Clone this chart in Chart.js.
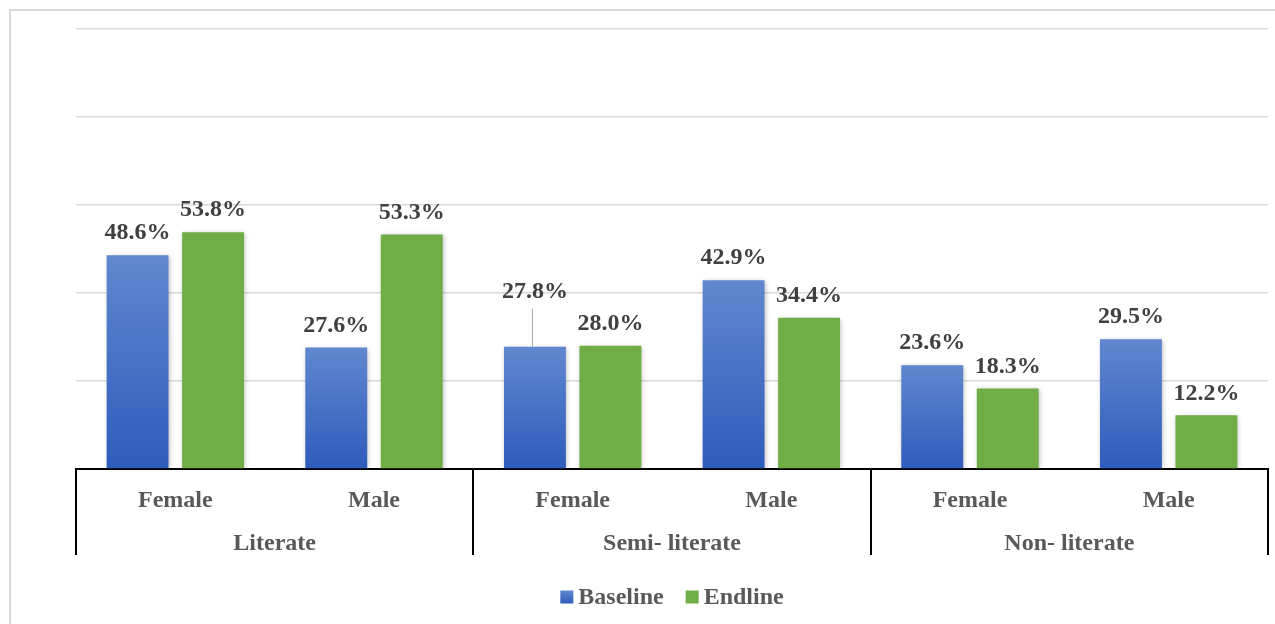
<!DOCTYPE html>
<html>
<head>
<meta charset="utf-8">
<script src="https://cdn.jsdelivr.net/npm/chart.js@4.4.1/dist/chart.umd.min.js"></script>
<style>
  html, body { margin: 0; padding: 0; background: #fff; }
  #wrap { width: 1275px; height: 624px; position: relative; }
</style>
</head>
<body>
<div id="wrap"><canvas id="literacyChart" width="1275" height="624"></canvas></div>
<script>
// chart values
const groups = ["Literate", "Semi- literate", "Non- literate"];
const sexes = ["Female", "Male", "Female", "Male", "Female", "Male"];
const baseline = [48.6, 27.6, 27.8, 42.9, 23.6, 29.5];
const endline = [53.8, 53.3, 28.0, 34.4, 18.3, 12.2];
const yTicks = [0, 20, 40, 60, 80, 100];

const SERIF = "'Liberation Serif', 'Times New Roman', serif";

// blue bars fade from light at the top to darker at the bottom, per bar
function blueFill(context) {
  const chart = context.chart;
  const y = chart.scales.y;
  if (!chart.chartArea || !y || context.raw == null) return "#4472C4";
  const top = y.getPixelForValue(context.raw);
  const bottom = y.getPixelForValue(0);
  const g = chart.ctx.createLinearGradient(0, top, 0, bottom);
  g.addColorStop(0, "#6087CF");
  g.addColorStop(1, "#2E5CBB");
  return g;
}

// label for Semi-literate female baseline sits higher with a leader line (as in the original)
const labelNudge = { "0-2": 33 };

const decorPlugin = {
  id: "decor",
  beforeDraw(chart) {
    const ctx = chart.ctx;
    ctx.save();
    ctx.strokeStyle = "#d9d9d9";
    ctx.lineWidth = 2;
    ctx.strokeRect(10, 10, 1400, 800);
    ctx.restore();
  },
  beforeDatasetsDraw(chart) {
    const ctx = chart.ctx;
    ctx.save();
    ctx.shadowColor = "rgba(0,0,0,0.28)";
    ctx.shadowBlur = 5;
    ctx.shadowOffsetX = 1;
    ctx.shadowOffsetY = 1;
  },
  afterDatasetsDraw(chart) {
    chart.ctx.restore();
    const ctx = chart.ctx;
    ctx.save();
    ctx.font = "bold 24px " + SERIF;
    ctx.fillStyle = "#404040";
    ctx.textAlign = "center";
    ctx.textBaseline = "middle";
    chart.data.datasets.forEach((ds, di) => {
      chart.getDatasetMeta(di).data.forEach((bar, i) => {
        const lift = labelNudge[di + "-" + i] || 0;
        const ty = bar.y - 22 - lift;
        ctx.fillText(ds.data[i].toFixed(1) + "%", bar.x, ty);
        if (lift) {
          ctx.strokeStyle = "#a6a6a6";
          ctx.lineWidth = 1;
          ctx.beginPath();
          ctx.moveTo(bar.x - 2.5, ty + 17);
          ctx.lineTo(bar.x - 2.5, bar.y);
          ctx.stroke();
        }
      });
    });
    ctx.restore();
  },
  afterDraw(chart) {
    const ctx = chart.ctx;
    const x = chart.scales.x;
    const area = chart.chartArea;
    const n = sexes.length;
    const per = n / groups.length;
    const step = x.getPixelForValue(1) - x.getPixelForValue(0);
    ctx.save();
    // group separators
    ctx.strokeStyle = "#000";
    ctx.lineWidth = 2;
    for (let g = 0; g <= groups.length; g++) {
      const px = Math.round(x.getPixelForValue(g * per) - step / 2);
      ctx.beginPath();
      ctx.moveTo(px, area.bottom);
      ctx.lineTo(px, area.bottom + 86);
      ctx.stroke();
    }
    // group labels
    ctx.font = "bold 24px " + SERIF;
    ctx.fillStyle = "#595959";
    ctx.textAlign = "center";
    ctx.textBaseline = "middle";
    groups.forEach((name, g) => {
      const cx = (x.getPixelForValue(g * per) + x.getPixelForValue(g * per + per - 1)) / 2;
      ctx.fillText(name, cx, area.bottom + 75);
    });
    // legend
    const items = chart.data.datasets.map((ds) => ds.label);
    const colors = ["#4472C4", "#70AD47"];
    const box = 13, gap = 5, spacing = 22;
    const widths = items.map((t) => box + gap + ctx.measureText(t).width);
    const total = widths.reduce((a, b) => a + b, 0) + spacing * (items.length - 1);
    let lx = (area.left + area.right) / 2 - total / 2;
    const ly = 597;
    ctx.textAlign = "left";
    items.forEach((t, k) => {
      if (k === 0) {
        const g = ctx.createLinearGradient(0, ly - box / 2, 0, ly + box / 2);
        g.addColorStop(0, "#6087CF");
        g.addColorStop(1, "#2E5CBB");
        ctx.fillStyle = g;
      } else {
        ctx.fillStyle = colors[k];
      }
      ctx.fillRect(lx, ly - box / 2, box, box);
      ctx.fillStyle = "#595959";
      ctx.fillText(t, lx + box + gap, ly + 1);
      lx += widths[k] + spacing;
    });
    ctx.restore();
  },
};

new Chart(document.getElementById("literacyChart"), {
  type: "bar",
  data: {
    labels: sexes,
    datasets: [
      { label: "Baseline", data: baseline, backgroundColor: blueFill },
      { label: "Endline", data: endline, backgroundColor: "#70AD47" },
    ],
  },
  options: {
    responsive: false,
    animation: false,
    devicePixelRatio: 1,
    categoryPercentage: 0.76,
    barPercentage: 0.82,
    layout: { padding: { left: 76, right: 7, top: 29, bottom: 0 } },
    plugins: { legend: { display: false }, tooltip: { enabled: false } },
    scales: {
      x: {
        grid: { display: false },
        border: { color: "#000", width: 2 },
        ticks: {
          color: "#595959",
          font: { family: SERIF, size: 24, weight: "bold" },
          padding: 9,
        },
        afterFit: (s) => { s.height = 155; },
      },
      y: {
        min: yTicks[0],
        max: yTicks[yTicks.length - 1],
        afterBuildTicks: (s) => { s.ticks = yTicks.map((v) => ({ value: v })); },
        ticks: { display: false },
        border: { display: false },
        grid: { color: "#d9d9d9", lineWidth: 1.5, drawTicks: false },
        afterFit: (s) => { s.width = 0; },
      },
    },
  },
  plugins: [decorPlugin],
});
</script>
</body>
</html>
